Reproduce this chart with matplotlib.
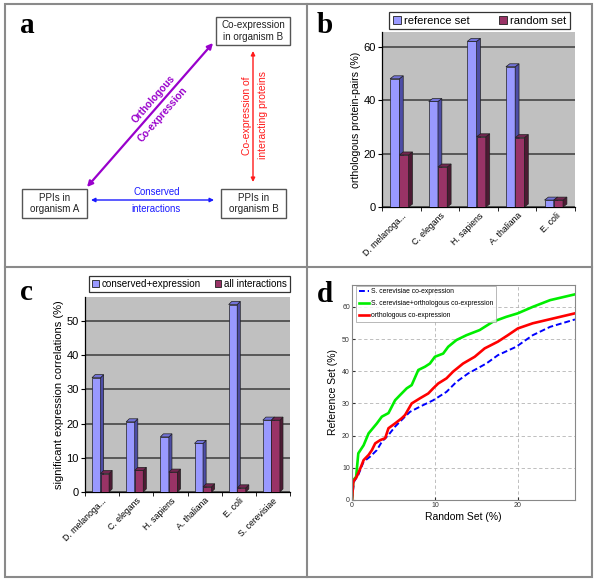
import matplotlib
matplotlib.use('Agg')
import matplotlib.pyplot as plt
from matplotlib.patches import Polygon, Rectangle, FancyArrowPatch, Patch
import matplotlib.transforms as mtransforms
import numpy as np

plt.rcParams['font.family'] = ['Liberation Sans', 'DejaVu Sans']

# ---------------- data ----------------
# panel b
b_species = ["D. melanoga...", "C. elegans", "H. sapiens", "A. thaliana", "E. coli"]
b_reference = [48, 39.5, 62, 52.5, 2.6]
b_random = [19.5, 15, 26.3, 26, 2.6]
b_series = ["reference set", "random set"]

# panel c
c_species = ["D. melanoga...", "C. elegans", "H. sapiens", "A. thaliana", "E. coli", "S. cerevisiae"]
c_conserved = [33.4, 20.5, 16.1, 14.2, 54.8, 21]
c_all = [5.4, 6.3, 5.8, 1.5, 1.2, 21]
c_series = ["conserved+expression", "all interactions"]

# panel d
d_blue_x = [0, 0.24, 0.76, 1.4, 2.2, 3.0, 3.6, 4.4, 5.2, 6.2, 7.0, 8.2, 9.8, 11.4, 12.6, 14.0, 16.2, 17.6, 19.8, 21.8, 23.9, 26.9]
d_blue_y = [0, 5.7, 7.8, 11.9, 13.5, 15.5, 18.1, 20.2, 22.8, 25.4, 27.4, 29.0, 31.0, 33.6, 36.7, 39.3, 42.4, 45.0, 47.6, 51.2, 53.8, 56.1]
d_green_x = [0, 0.16, 0.5, 0.76, 1.4, 2.0, 3.0, 3.6, 4.4, 5.2, 5.8, 6.6, 7.2, 8.0, 8.8, 9.4, 10.0, 11.0, 11.6, 12.6, 13.8, 15.4, 17.0, 18.6, 20.0, 21.8, 23.9, 26.9]
d_green_y = [0, 6.2, 7.2, 14.5, 17.0, 20.7, 23.8, 25.9, 27.0, 31.0, 32.6, 34.7, 35.7, 40.4, 41.4, 42.4, 44.5, 45.5, 47.6, 49.7, 51.2, 52.8, 55.4, 56.9, 58.0, 60.0, 62.1, 63.9]
d_red_x = [0, 0.16, 0.56, 1.0, 1.4, 2.0, 2.4, 2.8, 3.4, 4.0, 4.4, 5.2, 6.0, 6.4, 7.2, 8.2, 9.2, 9.8, 10.4, 11.4, 12.2, 13.4, 14.8, 16.0, 17.6, 18.8, 20.0, 21.8, 26.9]
d_red_y = [0, 5.7, 7.2, 9.8, 12.4, 14.0, 15.5, 17.6, 18.6, 19.2, 22.3, 23.8, 25.4, 26.4, 30.0, 31.6, 33.1, 34.7, 36.2, 37.8, 39.9, 42.4, 44.5, 47.1, 49.2, 51.2, 53.3, 54.9, 58.0]
d_labels = ["S. cerevisiae co-expression", "S. cerevisiae+orthologous co-expression", "orthologous co-expression"]

# ---------------- figure ----------------
W, H = 600, 580
fig = plt.figure(figsize=(W / 100, H / 100), dpi=100)

def fx(px):
    return px / W

def fy(py):
    return 1 - py / H

def axes_px(x0, y0, x1, y1):
    return [fx(x0), fy(y1), (x1 - x0) / W, (y1 - y0) / H]

# overlay for panel a, frames and letters
ov = fig.add_axes([0, 0, 1, 1], zorder=0)
ov.set_xlim(0, W)
ov.set_ylim(H, 0)
ov.axis('off')
ov.patch.set_alpha(0)

frame_col = '#8a8a8a'
ov.add_patch(Rectangle((5, 4), 587, 573, fill=False, ec=frame_col, lw=1.5))
ov.plot([307, 307], [4, 577], color=frame_col, lw=1.5)
ov.plot([5, 592], [267, 267], color=frame_col, lw=1.5)

letter_kw = dict(family=['Liberation Serif', 'DejaVu Serif'], fontweight='bold', fontsize=21, ha='left', va='baseline')
ov.text(20, 33, 'a', **letter_kw)
ov.text(317, 33, 'b', **letter_kw)
ov.text(20, 300, 'c', **letter_kw)
ov.text(317, 302, 'd', **letter_kw)

# panel a diagram
box_kw = dict(fill=True, fc='white', ec='#555555', lw=1.0)
ov.add_patch(Rectangle((216, 17), 74, 28, **box_kw))
ov.add_patch(Rectangle((22, 189), 65, 29, **box_kw))
ov.add_patch(Rectangle((221, 189), 65, 29, **box_kw))
tkw = dict(ha='center', va='center', fontsize=7.1, linespacing=1.2, color='#222222')
ov.text(253, 31, 'Co-expression\nin organism B', **tkw)
ov.text(54.5, 203.5, 'PPIs in\norganism A', **tkw)
ov.text(253.5, 203.5, 'PPIs in\norganism B', **tkw)

purple = '#9900cc'
ov.add_patch(FancyArrowPatch((87, 187), (213, 43), arrowstyle='<|-|>', mutation_scale=8,
                             color=purple, lw=1.6, shrinkA=0, shrinkB=0))
ang = np.degrees(np.arctan2(187 - 43, 213 - 87))
ov.text(154, 99, 'Orthologous', color=purple, fontsize=7.2, fontweight='bold', rotation=ang,
        ha='center', va='center', rotation_mode='anchor')
ov.text(163, 115, 'Co-expression', color=purple, fontsize=7.2, fontweight='bold', rotation=ang,
        ha='center', va='center', rotation_mode='anchor')

blue = '#1a1aff'
ov.add_patch(FancyArrowPatch((91, 200), (214, 200), arrowstyle='<|-|>', mutation_scale=6,
                             color=blue, lw=1.0, shrinkA=0, shrinkB=0))
ov.text(157, 192, 'Conserved', color=blue, fontsize=6.9, ha='center', va='center')
ov.text(156, 209, 'interactions', color=blue, fontsize=6.9, ha='center', va='center')

red = '#ff1a1a'
ov.add_patch(FancyArrowPatch((253, 51), (253, 182), arrowstyle='<|-|>', mutation_scale=6,
                             color=red, lw=1.0, shrinkA=0, shrinkB=0))
ov.text(247, 116, 'Co-expression of', color=red, fontsize=7.5, rotation=90, ha='center', va='center')
ov.text(263, 115, 'interacting proteins', color=red, fontsize=7.5, rotation=90, ha='center', va='center')

# ---------------- 3D bar helper ----------------
c_face = ['#9999ff', '#993366']
c_side = ['#4d4da6', '#4d1a33']
c_top = ['#7373d9', '#732650']

def bar3d(ax, centers, vals, k, w, dx, dy):
    lefts = np.asarray(centers) - w - dx / 2 + k * w
    for x, v in zip(lefts, vals):
        ax.add_patch(Rectangle((x, 0), w, v, fc=c_face[k], ec='#202020', lw=0.5, zorder=3 + k))
        ax.add_patch(Polygon([(x + w, 0), (x + w + dx, dy), (x + w + dx, v + dy), (x + w, v)],
                             closed=True, fc=c_side[k], ec='#202020', lw=0.5, zorder=3 + k))
        ax.add_patch(Polygon([(x, v), (x + w, v), (x + w + dx, v + dy), (x + dx, v + dy)],
                             closed=True, fc=c_top[k], ec='#202020', lw=0.5, zorder=3 + k))

def style_excel(ax, n, labels, ymax, yticks, ylabel, fs_lab):
    ax.set_facecolor('#c0c0c0')
    ax.set_xlim(0, n)
    ax.set_ylim(0, ymax)
    ax.set_yticks(yticks)
    ax.yaxis.grid(True, color='#3c3c3c', lw=1.1, zorder=1)
    ax.set_axisbelow(True)
    ax.set_xticks(np.arange(n) + 0.5)
    ax.set_xticklabels(labels, rotation=45, ha='right', rotation_mode='anchor', fontsize=6.3)
    shift = mtransforms.ScaledTranslation(-6 / 100, 0, fig.dpi_scale_trans)
    for lab in ax.get_xticklabels():
        lab.set_transform(lab.get_transform() + shift)
    ax.set_xticks(np.arange(n + 1), minor=True)
    ax.tick_params(axis='x', which='major', length=0, pad=3)
    ax.tick_params(axis='x', which='minor', length=3, direction='out')
    ax.tick_params(axis='y', length=3, direction='out', labelsize=8, pad=1.5)
    for s in ['top', 'right']:
        ax.spines[s].set_visible(False)
    ax.spines['left'].set_linewidth(0.9)
    ax.spines['bottom'].set_linewidth(0.9)
    ax.set_ylabel(ylabel, fontsize=fs_lab, labelpad=2)

# ---------------- panel b ----------------
axb = fig.add_axes(axes_px(382, 32, 575, 207))
nb = len(b_species)
cb = np.arange(nb) + 0.5
bar3d(axb, cb, b_reference, 0, 0.24, 0.1, 1.1)
bar3d(axb, cb, b_random, 1, 0.24, 0.1, 1.1)
style_excel(axb, nb, b_species, 65.5, [0, 20, 40, 60], 'orthologous protein-pairs (%)', 7.6)
hb = [Patch(fc=c_face[0], ec='#202020', lw=0.6), Patch(fc=c_face[1], ec='#202020', lw=0.6)]
legb = axb.legend(hb, b_series, loc='center', bbox_to_anchor=(fx(479.5), fy(20.5)),
                  bbox_transform=fig.transFigure, ncol=2, fontsize=8.1, frameon=True, fancybox=False,
                  edgecolor='black', handlelength=0.7, handleheight=0.7, handletextpad=0.3,
                  columnspacing=2.6, borderpad=0.3, borderaxespad=0)
legb.get_frame().set_linewidth(0.9)

# ---------------- panel c ----------------
axc = fig.add_axes(axes_px(85, 297, 290, 492))
nc = len(c_species)
cc = np.arange(nc) + 0.5
bar3d(axc, cc, c_conserved, 0, 0.25, 0.09, 0.9)
bar3d(axc, cc, c_all, 1, 0.25, 0.09, 0.9)
style_excel(axc, nc, c_species, 57, [0, 10, 20, 30, 40, 50], 'significant expression correlations (%)', 8)
legc = axc.legend(hb, c_series, loc='center', bbox_to_anchor=(fx(189.5), fy(284)),
                  bbox_transform=fig.transFigure, ncol=2, fontsize=7.1, frameon=True, fancybox=False,
                  edgecolor='black', handlelength=0.7, handleheight=0.7, handletextpad=0.3,
                  columnspacing=1.4, borderpad=0.3, borderaxespad=0)
legc.get_frame().set_linewidth(0.9)

# ---------------- panel d ----------------
axd = fig.add_axes(axes_px(352, 285, 575, 500))
axd.plot(d_blue_x, d_blue_y, '--', color='#0000ff', lw=1.4, label=d_labels[0], dashes=(3, 1.5))
axd.plot(d_green_x, d_green_y, '-', color='#00ee00', lw=1.9, label=d_labels[1])
axd.plot(d_red_x, d_red_y, '-', color='#ff0000', lw=1.9, label=d_labels[2])
axd.set_xlim(0, 26.9)
axd.set_ylim(0, 66.8)
axd.set_xticks([0, 10, 20])
axd.set_yticks([0, 10, 20, 30, 40, 50, 60])
axd.grid(True, ls=(0, (4, 3)), color='#b4b4b4', lw=0.6)
axd.tick_params(direction='in', labelsize=5, length=2, pad=1.5, colors='#333333')
for s in axd.spines.values():
    s.set_color('#888888')
    s.set_linewidth(0.8)
axd.set_xlabel('Random Set (%)', fontsize=7.5, labelpad=2)
axd.set_ylabel('Reference Set (%)', fontsize=7.5, labelpad=3)
legd = axd.legend(loc='upper left', bbox_to_anchor=(0.02, 0.997), fontsize=4.85, frameon=True,
                  fancybox=False, edgecolor='#999999', handlelength=1.5, handletextpad=0.2,
                  borderpad=0.4, labelspacing=0.75, borderaxespad=0)
legd.get_frame().set_linewidth(0.6)

fig.savefig('out.png', dpi=100)
